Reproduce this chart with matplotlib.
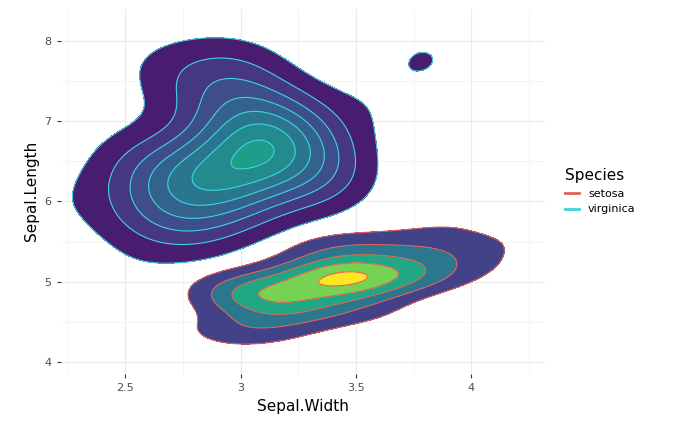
import numpy as np
import matplotlib
matplotlib.use("Agg")
import matplotlib.pyplot as plt
from matplotlib.lines import Line2D

# iris sepal measurements (length, width)
setosa_len = [5.1,4.9,4.7,4.6,5.0,5.4,4.6,5.0,4.4,4.9,5.4,4.8,4.8,4.3,5.8,5.7,5.4,5.1,5.7,5.1,5.4,5.1,4.6,5.1,4.8,
              5.0,5.0,5.2,5.2,4.7,4.8,5.4,5.2,5.5,4.9,5.0,5.5,4.9,4.4,5.1,5.0,4.5,4.4,5.0,5.1,4.8,5.1,4.6,5.3,5.0]
setosa_wid = [3.5,3.0,3.2,3.1,3.6,3.9,3.4,3.4,2.9,3.1,3.7,3.4,3.0,3.0,4.0,4.4,3.9,3.5,3.8,3.8,3.4,3.7,3.6,3.3,3.4,
              3.0,3.4,3.5,3.4,3.2,3.1,3.4,4.1,4.2,3.1,3.2,3.5,3.6,3.0,3.4,3.5,2.3,3.2,3.5,3.8,3.0,3.8,3.2,3.7,3.3]
virginica_len = [6.3,5.8,7.1,6.3,6.5,7.6,4.9,7.3,6.7,7.2,6.5,6.4,6.8,5.7,5.8,6.4,6.5,7.7,7.7,6.0,6.9,5.6,7.7,6.3,6.7,
                 7.2,6.2,6.1,6.4,7.2,7.4,7.9,6.4,6.3,6.1,7.7,6.3,6.4,6.0,6.9,6.7,6.9,5.8,6.8,6.7,6.7,6.3,6.5,6.2,5.9]
virginica_wid = [3.3,2.7,3.0,2.9,3.0,3.0,2.5,2.9,2.5,3.6,3.2,2.7,3.0,2.5,2.8,3.2,3.0,3.8,2.6,2.2,3.2,2.8,2.8,2.7,3.3,
                 3.2,2.8,3.0,2.8,3.0,2.8,3.8,2.8,2.8,2.6,3.0,3.4,3.1,3.0,3.1,3.1,3.1,2.7,3.2,3.3,3.0,2.5,3.0,3.4,3.0]

species = ["setosa", "virginica"]
line_colors = {"setosa": "#E0605A", "virginica": "#3FD3DC"}
n_bands = {"setosa": 5.3, "virginica": 7.3}


def kde(xs, ys, gx, gy, f):
    xs, ys = np.asarray(xs), np.asarray(ys)
    n = len(xs)
    hx, hy = f * n ** (-1 / 6) * xs.std(ddof=1), f * n ** (-1 / 6) * ys.std(ddof=1)
    zx = (gx[..., None] - xs) / hx
    zy = (gy[..., None] - ys) / hy
    return np.exp(-0.5 * (zx ** 2 + zy ** 2)).sum(-1) / (n * 2 * np.pi * hx * hy)


gx, gy = np.meshgrid(np.linspace(2.0, 4.6, 300), np.linspace(3.6, 8.6, 300))
dens = {
    "setosa": kde(setosa_wid, setosa_len, gx, gy, 0.92),
    "virginica": kde(virginica_wid, virginica_len, gx, gy, 1.06),
}
cmap = plt.get_cmap("viridis")
zmax = max(d.max() for d in dens.values())
norm = plt.Normalize(0, zmax * 0.95)

fig, ax = plt.subplots(figsize=(6.73, 4.3), dpi=100)
for sp in species:
    z = dens[sp]
    step = z.max() / n_bands[sp]
    lv = np.arange(1, 20) * step
    lv = lv[lv < z.max()]
    lv_fill = np.append(lv, 1e9)
    cols = [cmap(norm(l)) for l in lv]
    ax.contourf(gx, gy, z, levels=lv_fill, colors=cols)
    ax.contour(gx, gy, z, levels=lv, colors=line_colors[sp], linewidths=0.8)

ax.set_xlim(2.22, 4.32)
ax.set_ylim(3.85, 8.4)
ax.set_xticks([2.5, 3, 3.5, 4])
ax.set_xticklabels(["2.5", "3", "3.5", "4"])
ax.set_yticks([4, 5, 6, 7, 8])
ax.set_xticks([2.25, 2.75, 3.25, 3.75, 4.25], minor=True)
ax.set_yticks([4.5, 5.5, 6.5, 7.5], minor=True)
ax.grid(True, which="major", color="#EBEBEB", lw=0.9)
ax.grid(True, which="minor", color="#F3F3F3", lw=0.6)
ax.set_axisbelow(True)
for s in ax.spines.values():
    s.set_visible(False)
ax.tick_params(which="major", length=3, color="#333333", labelsize=8, labelcolor="#4D4D4D")
ax.tick_params(which="minor", length=0)
ax.set_xlabel("Sepal.Width", fontsize=11)
ax.set_ylabel("Sepal.Length", fontsize=11)

handles = [Line2D([], [], color=line_colors[sp], lw=2) for sp in species]
leg = ax.legend(handles, species, title="Species", loc="center left", bbox_to_anchor=(1.02, 0.5),
                frameon=False, fontsize=8, title_fontsize=11, handlelength=1.3)
leg._legend_box.align = "left"

fig.subplots_adjust(left=0.09, right=0.81, bottom=0.13, top=0.98)
fig.savefig("out.png", dpi=100)
